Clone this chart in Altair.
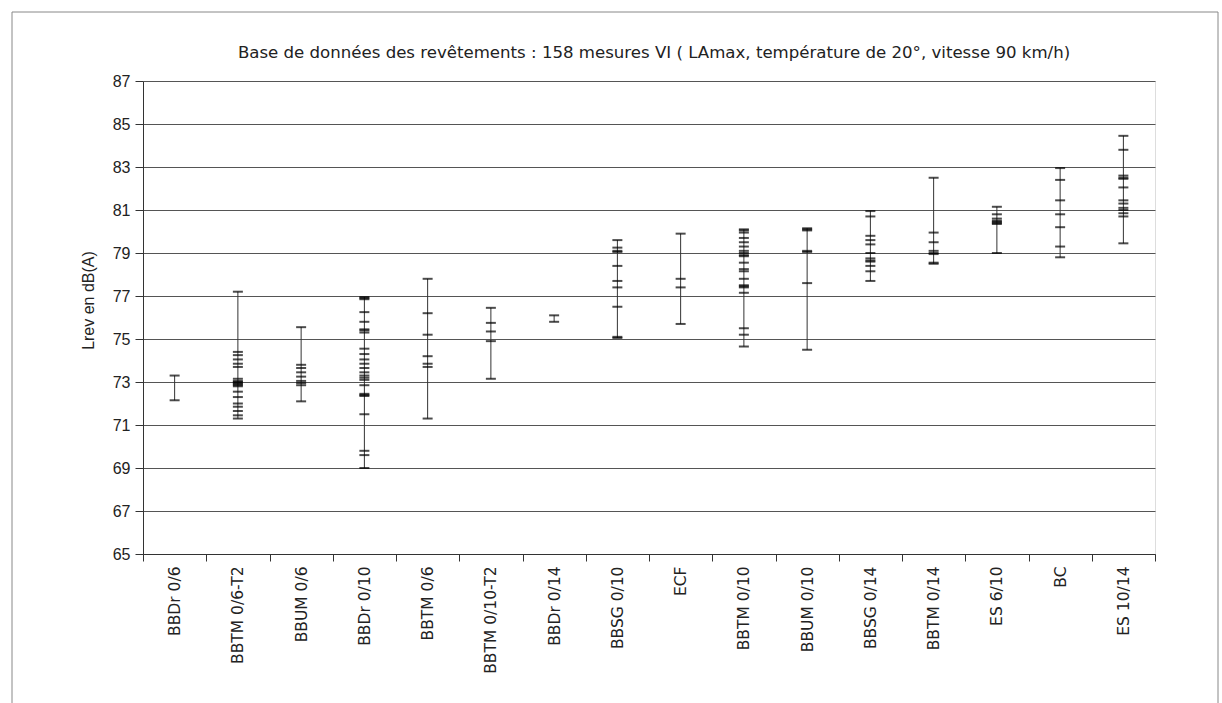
import altair as alt
import pandas as pd

title_text = "Base de données des revêtements : 158 mesures VI  ( LAmax, température de 20°, vitesse 90 km/h)"

categories = ["BBDr 0/6", "BBTM 0/6-T2", "BBUM 0/6", "BBDr 0/10", "BBTM 0/6",
              "BBTM 0/10-T2", "BBDr 0/14", "BBSG 0/10", "ECF", "BBTM 0/10",
              "BBUM 0/10", "BBSG 0/14", "BBTM 0/14", "ES 6/10", "BC", "ES 10/14"]

bbdr_06 = [73.3, 72.15]
bbtm_06_t2 = [77.2, 74.4, 74.25, 74.05, 73.85, 73.7, 73.15, 73.05, 73.0, 72.95, 72.9,
              72.85, 72.8, 72.55, 72.3, 72.0, 71.85, 71.65, 71.45, 71.3]
bbum_06 = [75.55, 73.8, 73.65, 73.45, 73.25, 73.05, 72.95, 72.85, 72.1]
bbdr_010 = [76.95, 76.9, 76.85, 76.25, 75.8, 75.45, 75.4, 75.3, 74.55, 74.3, 74.05,
            73.85, 73.65, 73.45, 73.3, 73.2, 73.1, 72.85, 72.45, 72.4, 72.35, 71.5,
            69.8, 69.6, 69.0]
bbtm_06 = [77.8, 76.2, 75.2, 74.2, 73.85, 73.7, 71.3]
bbtm_010_t2 = [76.45, 75.75, 75.35, 74.9, 73.15]
bbdr_014 = [76.1, 75.8]
bbsg_010 = [79.6, 79.25, 79.1, 79.05, 78.4, 77.7, 77.4, 76.5, 75.1, 75.05]
ecf = [79.9, 77.8, 77.4, 75.7]
bbtm_010 = [80.1, 80.05, 79.95, 79.7, 79.5, 79.3, 79.1, 79.0, 78.9, 78.85, 78.55,
            78.25, 78.15, 77.8, 77.5, 77.45, 77.4, 77.15, 75.5, 75.2, 74.65]
bbum_010 = [80.15, 80.1, 80.05, 79.1, 79.05, 77.6, 74.5]
bbsg_014 = [80.95, 80.7, 79.8, 79.6, 79.4, 79.0, 78.75, 78.65, 78.6, 78.4, 78.15, 77.7]
bbtm_014 = [82.5, 79.95, 79.5, 79.1, 79.0, 78.95, 78.55, 78.5]
es_610 = [81.15, 80.8, 80.6, 80.5, 80.45, 80.4, 80.35, 79.0]
bc = [82.95, 82.4, 81.45, 80.8, 80.2, 79.3, 78.8]
es_1014 = [84.45, 83.8, 82.6, 82.5, 82.45, 82.05, 81.45, 81.3, 81.1, 81.0, 80.85,
           80.7, 79.45]

series = [bbdr_06, bbtm_06_t2, bbum_06, bbdr_010, bbtm_06, bbtm_010_t2, bbdr_014,
          bbsg_010, ecf, bbtm_010, bbum_010, bbsg_014, bbtm_014, es_610, bc, es_1014]

y_ticks = list(range(65, 88, 2))

rows = []
for cat, vals in zip(categories, series):
    for v in vals:
        rows.append({"revetement": cat, "Lrev": v})
df = pd.DataFrame(rows)

FONT = "Liberation Sans"
WIDE = "DejaVu Sans"

x_enc = alt.X("revetement:N", sort=categories,
              scale=alt.Scale(paddingInner=0, paddingOuter=0),
              axis=alt.Axis(title=None, tickBand="extent", labelAngle=270,
                            labelAlign="right", labelBaseline="middle",
                            tickSize=7, labelPadding=5, labelFontSize=15.5,
                            labelFont=WIDE, labelColor="#222",
                            domainColor="#333", tickColor="#333", grid=False))

y_scale = alt.Scale(domain=[65, 87], nice=False, zero=False)

rules = alt.Chart(df).mark_rule(color="#333", strokeWidth=1).encode(
    x=x_enc,
    y=alt.Y("min(Lrev):Q", scale=y_scale,
            axis=alt.Axis(values=y_ticks, grid=True, gridColor="#555",
                          gridWidth=1, domainColor="#333", tickColor="#333",
                          tickSize=8, labelPadding=5, labelFontSize=16,
                          labelFont=FONT, labelColor="#222",
                          title="Lrev en dB(A)", titleFontSize=16,
                          titleFont=FONT, titleFontWeight="normal",
                          titleColor="#222", titleAngle=270,
                          titleX=-55, titleY=219, titleAlign="center",
                          titleBaseline="middle")),
    y2="max(Lrev):Q",
)

ticks = alt.Chart(df).mark_tick(color="#000", thickness=2, size=10).encode(
    x=alt.X("revetement:N", sort=categories),
    y=alt.Y("Lrev:Q", scale=y_scale),
)

one_row = pd.DataFrame({"f": [0]})

frame = alt.Chart(one_row).mark_rect(
    fill=None, stroke="#888", strokeWidth=1
).encode(
    x=alt.value(-131), x2=alt.value(1075),
    y=alt.value(-69), y2=alt.value(640),
)

title = alt.Chart(one_row).mark_text(
    font=WIDE, fontSize=16.6, color="#222", align="center", baseline="alphabetic"
).encode(
    x=alt.value(511), y=alt.value(-23), text=alt.value(title_text),
)

chart = alt.layer(frame, rules, ticks, title).properties(
    width=1012, height=473,
    autosize=alt.AutoSizeParams(type="none"),
    padding={"left": 143, "top": 81, "right": 67, "bottom": 149},
).configure_view(stroke=None).configure(background="white")

chart.save("out.html", embed_options={"renderer": "svg", "actions": False})
